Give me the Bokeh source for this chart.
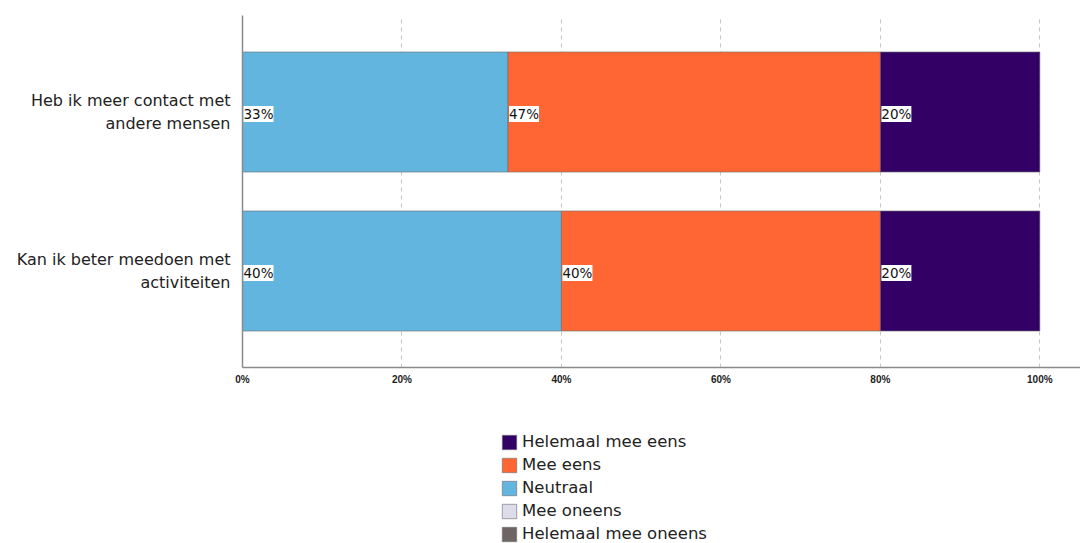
from bokeh.plotting import figure
from bokeh.layouts import column
from bokeh.models import ColumnDataSource, LabelSet, Legend, LegendItem, Range1d, FixedTicker
from bokeh.core.properties import value
from bokeh.embed import file_html
from bokeh.resources import INLINE

# Survey statements (top to bottom) and answer share per category (%)
statements = ["Heb ik meer contact met\nandere mensen", "Kan ik beter meedoen met\nactiviteiten"]
helemaal_oneens = [0.0, 0.0]
mee_oneens = [0.0, 0.0]
neutraal = [33.3, 40.0]
mee_eens = [46.7, 40.0]
helemaal_eens = [20.0, 20.0]

series_names = ["Helemaal mee oneens", "Mee oneens", "Neutraal", "Mee eens", "Helemaal mee eens"]
series_values = [helemaal_oneens, mee_oneens, neutraal, mee_eens, helemaal_eens]
series_colors = ["#6E6464", "#DCDCEB", "#62B5DE", "#FF6633", "#330066"]

x_ticks = [0, 20, 40, 60, 80, 100]
x_tick_labels = ["0%", "20%", "40%", "60%", "80%", "100%"]

ypos = [2, 1]

p = figure(width=1080, height=400, output_backend="svg", toolbar_location=None,
           x_range=Range1d(0, 105.1), y_range=Range1d(0.393, 2.607),
           min_border_left=242, min_border_right=0, min_border_top=15, min_border_bottom=33)
p.outline_line_color = None

# separate strip underneath that only carries the legend
leg_fig = figure(width=1080, height=143, output_backend="svg", toolbar_location=None,
                 x_range=Range1d(1000, 1001), y_range=Range1d(1000, 1001),
                 min_border=0)
leg_fig.axis.visible = False
leg_fig.grid.visible = False
leg_fig.outline_line_color = None

legend_renderers = {}
left = [0.0, 0.0]
for name, vals, col in zip(series_names, series_values, series_colors):
    right = [l + v for l, v in zip(left, vals)]
    src = ColumnDataSource(dict(y=ypos, left=left, right=right))
    bar_style = dict(fill_color=col, line_color="#6a6a6a", line_alpha=0.6, line_width=1)
    p.hbar(y="y", left="left", right="right", height=0.755, source=src, **bar_style)
    legend_renderers[name] = leg_fig.hbar(y="y", left="left", right="right", height=0.755,
                                          source=src, **bar_style)
    shown = [i for i, v in enumerate(vals) if v > 0]
    if shown:
        lbl_src = ColumnDataSource(dict(x=[left[i] for i in shown],
                                        y=[ypos[i] for i in shown],
                                        txt=[f"{round(vals[i]):.0f}%" for i in shown]))
        p.add_layout(LabelSet(x="x", y="y", text="txt", source=lbl_src,
                              text_font=value("DejaVu Sans"), text_font_size="13.5px",
                              text_color="#111111", text_align="left", text_baseline="middle",
                              x_offset=1, y_offset=-2,
                              background_fill_color="white", background_fill_alpha=1.0))
    left = right

# axes
p.xaxis.ticker = FixedTicker(ticks=x_ticks)
p.xaxis.major_label_overrides = {t: s for t, s in zip(x_ticks, x_tick_labels)}
p.xaxis.major_label_text_font = "Liberation Sans"
p.xaxis.major_label_text_font_style = "bold"
p.xaxis.major_label_text_font_size = "10px"
p.xaxis.major_label_text_color = "#222222"
p.xaxis.major_tick_line_color = None
p.xaxis.minor_tick_line_color = None
p.xaxis.axis_line_color = "#8a8a8a"
p.xaxis.axis_line_width = 1.5
p.xaxis.major_label_standoff = 0

p.yaxis.ticker = FixedTicker(ticks=ypos)
p.yaxis.major_label_overrides = {y: s for y, s in zip(ypos, statements)}
p.yaxis.major_label_text_font = "DejaVu Sans"
p.yaxis.major_label_text_font_size = "16px"
p.yaxis.major_label_text_line_height = 1.2
p.yaxis.major_label_text_color = "#222222"
p.yaxis.major_label_text_align = "right"
p.yaxis.major_tick_line_color = None
p.yaxis.minor_tick_line_color = None
p.yaxis.axis_line_color = "#8a8a8a"
p.yaxis.axis_line_width = 1.5
p.yaxis.major_label_standoff = 6

p.xgrid.grid_line_color = "#c8c8c8"
p.xgrid.grid_line_dash = "4 4"
p.xgrid.grid_line_width = 1
p.ygrid.grid_line_color = None

# legend, strongest agreement first (offset is measured from the aligned frame edge)
legend_items = [LegendItem(label=n, renderers=[legend_renderers[n]]) for n in reversed(series_names)]
legend = Legend(items=legend_items, location=(258, 0), orientation="vertical",
                label_text_font="DejaVu Sans", label_text_font_size="16.5px", label_text_color="#222222",
                glyph_width=18, glyph_height=18, label_height=18, spacing=4,
                label_standoff=4, padding=0, margin=0,
                border_line_color=None, background_fill_alpha=0)
leg_fig.add_layout(legend, "center")

layout = column(p, leg_fig, spacing=0)
open("out.html", "w").write(file_html(layout, INLINE))
